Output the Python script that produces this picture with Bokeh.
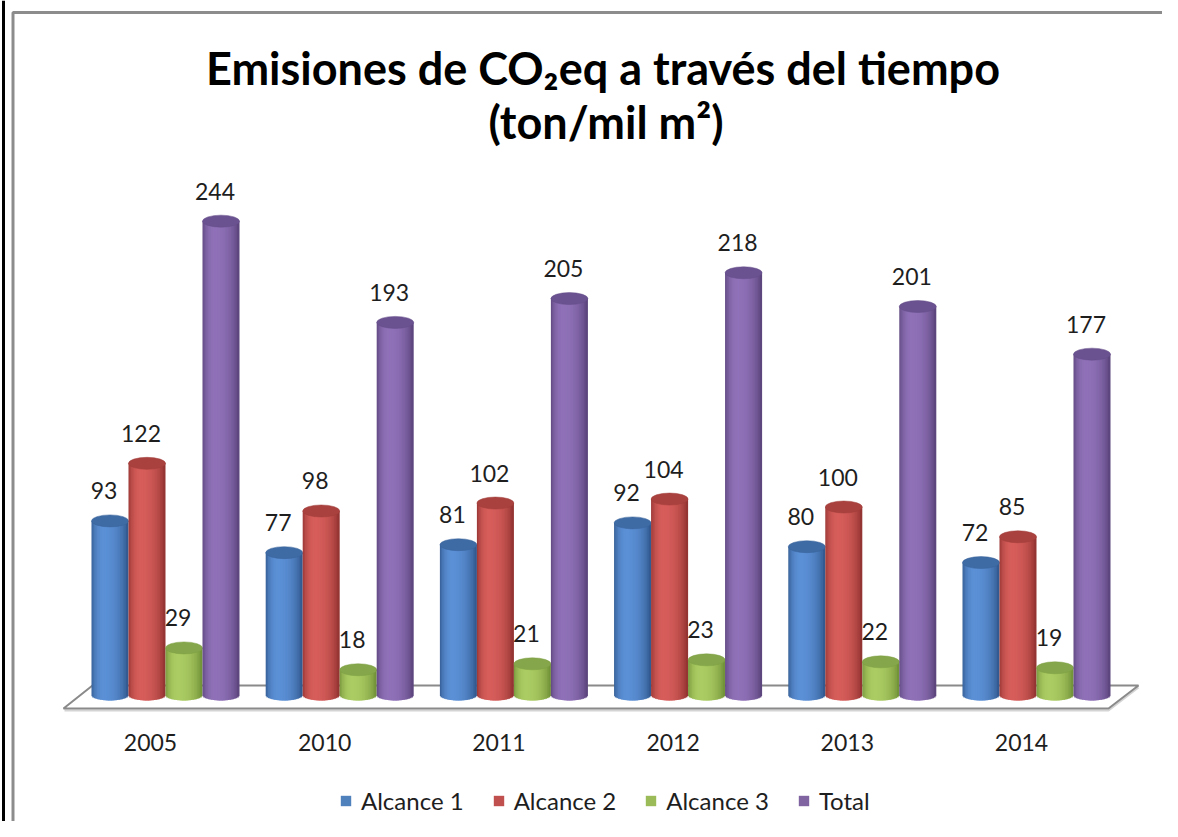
import numpy as np
from bokeh.plotting import figure
from bokeh.models import ColumnDataSource, Legend, LegendItem
from bokeh.core.properties import value
from bokeh.embed import file_html
from bokeh.resources import INLINE

# ---------------- data ----------------
years = ["2005", "2010", "2011", "2012", "2013", "2014"]
alcance1 = [93, 77, 81, 92, 80, 72]
alcance2 = [122, 98, 102, 104, 100, 85]
alcance3 = [29, 18, 21, 23, 22, 19]
total = [244, 193, 205, 218, 201, 177]
series_names = ["Alcance 1", "Alcance 2", "Alcance 3", "Total"]
title_line1 = "Emisiones de CO\u2082eq a trav\u00e9s del tiempo"
title_line2 = "(ton/mil m\u00b2)"

# ---------------- styling ----------------
W, H = 1162, 821
GROUP_PX = 174.2         # px between category centres
X0_PX = 165.0            # canvas px of first category centre
BASE_PX = 705.0          # canvas px of value 0
PPU = 1.985              # px per value unit
BAR_PX = 37.0            # cylinder width in px
ELL_PX = 12.0            # ellipse height in px
BOTTOM_PX = 694.0        # canvas px of cylinder bottom ellipse centre
NSTRIP = 24

def fx(px):
    return (px - X0_PX) / GROUP_PX

def fy(py):
    return (BASE_PX - py) / PPU

bar_w = BAR_PX / GROUP_PX
ell_h = ELL_PX / PPU
bottom_y = fy(BOTTOM_PX)

# (dark edge, highlight, top)
palette = [
    ("#2c5285", "#5b90d6", "#3f6ba4"),
    ("#8a2e2c", "#d65d5a", "#a9423f"),
    ("#6b8a33", "#abcc63", "#85a64a"),
    ("#553f74", "#8f71b8", "#6a5290"),
]
legend_colors = ["#4f81bd", "#c0504d", "#9bbb59", "#8064a2"]

def hex2rgb(h):
    h = h.lstrip("#")
    return np.array([int(h[i:i + 2], 16) for i in (0, 2, 4)], float)

def mix(c1, c2, f):
    c = hex2rgb(c1) * (1 - f) + hex2rgb(c2) * f
    return "#%02x%02x%02x" % tuple(int(round(v)) for v in c)

p = figure(width=W, height=H, output_backend="svg", toolbar_location=None,
           x_range=(fx(0), fx(W)), y_range=(fy(H), fy(0)),
           min_border=0, outline_line_color=None)
p.axis.visible = False
p.grid.visible = False
p.background_fill_color = "white"
p.border_fill_color = "white"

# outer frame lines
p.line([fx(3), fx(3)], [fy(0), fy(H)], line_color="black", line_width=3)
p.line([fx(12.5), fx(12.5), fx(W)], [fy(H), fy(12), fy(12)],
       line_color="#8c8c8c", line_width=3)

# floor
n = len(years)
fl_x = [fx(63), fx(1108), fx(1138), fx(92)]
fl_y = [fy(708), fy(708), fy(685), fy(685)]
p.line([fx(64), fx(1108), fx(1138)], [fy(710), fy(710), fy(687)],
       line_color="#d4d4d4", line_width=2)
p.patch(fl_x, fl_y, fill_color="white", line_color="#8a8a8a", line_width=2)

# cylinders
series = [alcance1, alcance2, alcance3, total]
offsets = [(-1.5 + k) * bar_w for k in range(4)]
idx = np.arange(n)
u = (np.arange(NSTRIP) + 0.5) / NSTRIP * 2 - 1  # -1..1 across the cylinder
hl = -0.3
shade = np.clip(1 - ((u - hl) / (1 + abs(hl) * np.sign(u - hl))) ** 2, 0, 1) ** 0.7

legend_items = []
for s, vals in enumerate(series):
    dark, light, top = palette[s]
    cx = idx + offsets[s]
    # flat body (legend colour), covered by the shaded strips
    base = p.vbar(x=cx, top=vals, bottom=bottom_y, width=bar_w * 0.96,
                  fill_color=legend_colors[s], line_color=None)
    xs, tops, bots, cols, ws = [], [], [], [], []
    for i in range(n):
        for k in range(NSTRIP):
            left = max(-1.0, u[k] - 2 / NSTRIP)
            right = min(1.0, u[k] + 2 / NSTRIP)
            xs.append(cx[i] + (left + right) / 2 * bar_w / 2)
            ws.append((right - left) * bar_w / 2)
            tops.append(vals[i])
            bots.append(bottom_y - ell_h / 2 * np.sqrt(max(0.0, 1 - u[k] ** 2)))
            cols.append(mix(dark, light, shade[k]))
    src = ColumnDataSource(dict(x=xs, top=tops, bottom=bots, color=cols, w=ws))
    p.vbar(x="x", top="top", bottom="bottom", width="w",
           fill_color="color", line_color=None, source=src)
    p.ellipse(x=cx, y=vals, width=bar_w, height=ell_h,
              fill_color=top, line_color=mix(top, dark, 0.3), line_width=0.5)
    p.text(x=cx, y=vals, text=[str(v) for v in vals], x_offset=-6, y_offset=-30,
           text_align="center", text_baseline="middle", text_color="#1e1e1e",
           text_font=value("Lato"), text_font_size="23px")
    legend_items.append(LegendItem(label=series_names[s], renderers=[base]))

# category labels
p.text(x=idx, y=[0] * n, text=years, x_offset=-15, y_offset=37,
       text_align="center", text_baseline="middle", text_color="#1e1e1e",
       text_font=value("Lato"), text_font_size="23px")

# title
mid = (n - 1) / 2
p.text(x=[mid], y=[fy(67)], text=[title_line1], x_offset=2,
       text_align="center", text_baseline="middle", text_color="black",
       text_font=value("Lato"), text_font_style="bold", text_font_size="45px")
p.text(x=[mid], y=[fy(121)], text=[title_line2], x_offset=5,
       text_align="center", text_baseline="middle", text_color="black",
       text_font=value("Lato"), text_font_style="bold", text_font_size="45px")

legend = Legend(items=legend_items, orientation="horizontal", location=(339, 6),
                border_line_color=None, background_fill_alpha=0, padding=0, margin=0,
                spacing=28, label_standoff=9, glyph_width=13, glyph_height=13,
                label_text_font="Lato", label_text_font_size="24px",
                label_text_color="#1e1e1e")
p.add_layout(legend)

open("out.html", "w").write(file_html(p, INLINE))
